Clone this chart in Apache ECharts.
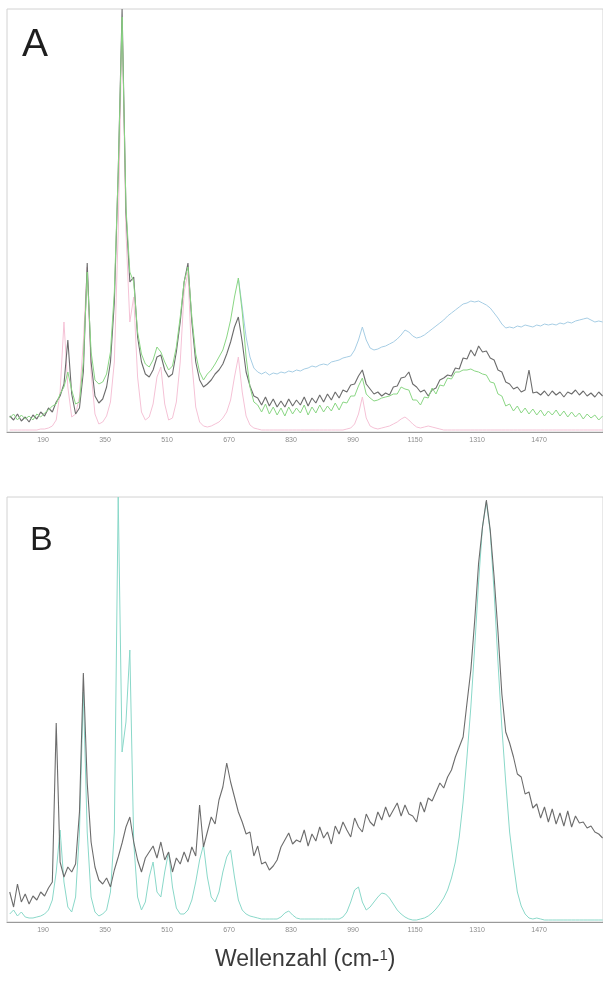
<!DOCTYPE html>
<html><head><meta charset="utf-8">
<script src="https://cdn.jsdelivr.net/npm/echarts@6/dist/echarts.min.js"></script>
<style>html,body{margin:0;padding:0;background:#fff}#c{width:603px;height:983px}</style>
</head><body><div id="c"></div>
<script>
// Sampling grid (wavenumber, cm-1) shared by all spectra
const wavenumberStart = 104;
const wavenumberStep = 10;
const xTicks = [190, 350, 510, 670, 830, 990, 1150, 1310, 1470];

const grayA = [
 16,12,18,11,15,10,17,13,20,16,
 24,20,30,36,48,92,38,18,24,60,
 169,70,36,29,33,45,70,130,260,423,
 220,150,155,95,70,58,55,62,75,77,
 62,55,58,80,110,150,169,110,70,52,
 45,48,52,58,62,68,78,90,105,115,
 90,60,46,36,34,27,35,26,33,25,
 31,25,33,26,32,27,35,26,34,29,
 37,30,38,32,40,34,42,40,47,48,
 56,62,48,43,38,40,36,39,37,45,
 46,54,55,60,48,45,40,42,36,42,
 44,52,54,57,56,64,63,74,73,82,
 76,86,80,81,74,72,62,60,50,48,
 43,45,40,42,62,39,40,37,41,36,
 41,37,40,35,40,38,42,37,41,36,
 39,35,40,36];
const greenA = [
 14,18,12,17,13,16,12,18,15,19,
 22,26,28,38,45,60,42,28,30,70,
 160,80,52,48,50,58,80,140,260,415,
 225,160,150,100,78,68,65,72,85,80,
 70,62,66,85,115,150,165,115,78,60,
 52,58,62,68,75,82,95,112,135,154,
 120,75,45,30,27,20,28,18,25,17,
 24,16,25,18,24,19,27,17,25,19,
 27,20,26,21,29,22,30,29,36,36,
 46,54,38,34,31,32,34,35,36,38,
 38,45,43,42,32,32,27,35,34,44,
 38,47,46,54,53,60,60,62,62,63,
 61,60,58,57,50,49,38,36,26,28,
 21,26,19,24,18,23,17,22,16,21,
 17,22,16,21,15,20,15,19,13,18,
 14,17,12,16];
const blueAStart = 694;
const blueA = [
 154,125,95,75,64,60,58,60,57,59,58,
 60,59,61,60,62,61,63,64,66,65,
 67,68,67,70,71,72,74,75,76,82,
 92,105,92,84,82,83,85,86,88,90,
 93,97,102,100,96,94,95,97,100,103,
 106,109,112,116,119,122,125,128,129,131,
 130,131,129,127,124,119,114,108,104,105,
 104,106,105,107,106,105,107,106,108,107,
 108,107,109,108,110,109,111,112,113,114,
 112,110,111,110];
const pinkA = [
 2,2,2,2,2,2,2,2,3,3,
 4,6,12,40,110,45,15,18,35,90,
 165,60,18,8,10,16,30,70,200,415,
 200,110,135,55,20,12,15,28,55,65,
 28,12,14,30,70,140,160,70,25,10,
 6,5,6,8,10,14,20,32,55,75,
 40,16,7,4,3,2,2,2,2,2,
 2,2,2,2,2,2,2,2,2,2,
 2,2,2,2,2,2,2,3,4,8,
 18,35,14,6,4,3,4,5,6,8,
 10,13,15,12,8,5,4,5,6,5,
 4,3,2,2,2,2,2,2,2,2,
 2,2,2,2,2,2,2,2,2,2,
 2,2,2,2,2,2,2,2,2,2,
 2,2,2,2,2,2,2,2,2,2,
 2,2,2,2];

// Panel B: measured spectrum (gray) and reference fit (teal)
const grayB = [
 30,15,38,20,28,18,26,22,30,26,
 34,40,199,60,45,55,50,58,110,249,
 139,80,55,42,38,44,35,52,65,79,
 95,105,80,62,50,64,70,76,64,80,
 62,70,50,64,58,70,60,75,66,117,
 75,90,105,98,122,135,159,140,125,110,
 100,88,90,66,76,58,60,52,56,62,
 75,82,89,78,82,80,92,76,88,81,
 95,84,90,78,96,88,100,92,85,104,
 95,90,108,100,96,110,102,115,105,112,
 119,106,117,108,106,100,120,110,124,121,
 130,139,134,145,152,165,175,185,219,252,
 302,359,395,422,392,345,290,228,190,179,
 165,148,145,128,130,114,118,104,115,100,
 113,98,109,96,111,95,106,99,100,94,
 96,90,88,84];
const tealB = [
 8,12,6,10,5,4,4,5,6,8,
 12,22,50,92,40,15,10,25,90,230,
 90,25,10,6,8,12,30,90,425,170,
 200,272,80,25,12,20,45,60,30,25,
 50,70,35,14,8,8,12,22,40,62,
 77,45,25,20,30,50,65,72,45,22,
 12,8,6,5,4,3,3,3,3,3,
 5,9,11,7,4,3,3,3,3,3,
 3,3,3,3,3,3,5,10,20,32,
 35,20,12,15,20,25,29,28,24,18,
 12,8,5,3,2,2,3,4,6,9,
 13,18,24,32,44,60,85,120,165,215,
 275,340,395,420,390,330,260,195,140,90,
 58,30,16,8,4,3,4,3,2,2,
 2,2,2,2,2,2,2,2,2,2,
 2,2,2,2];

function toPairs(vals, start) {
  return vals.map((v, i) => [start + i * wavenumberStep, v]);
}

const chart = echarts.init(document.getElementById('c'), null, {renderer: 'canvas'});

function xAx(gi) {
  return {
    gridIndex: gi, type: 'value', min: 97, max: 1635,
    axisLine: {show: true, lineStyle: {color: '#9a9a9a', width: 1}},
    axisTick: {show: false},
    splitLine: {show: false},
    axisLabel: {customValues: xTicks, formatter: v => String(v), fontSize: 7, color: '#8c8c8c', margin: 5, fontFamily: 'Liberation Sans'}
  };
}
function line(name, gi, data, color, z, width) {
  return {
    name, type: 'line', xAxisIndex: gi, yAxisIndex: gi, data,
    showSymbol: false, symbol: 'none', z, animation: false,
    lineStyle: {color, width: width || 1}, clip: true
  };
}

chart.setOption({
  backgroundColor: '#ffffff',
  animation: false,
  grid: [
    {left: 7, right: 0, top: 9, height: 423, show: true, borderColor: '#d2d2d2', borderWidth: 1},
    {left: 7, right: 0, top: 497, height: 425, show: true, borderColor: '#d2d2d2', borderWidth: 1}
  ],
  xAxis: [xAx(0), xAx(1)],
  yAxis: [
    {gridIndex: 0, type: 'value', min: 0, max: 423, show: false},
    {gridIndex: 1, type: 'value', min: 0, max: 425, show: false}
  ],
  series: [
    line('Referenz A', 0, toPairs(pinkA, wavenumberStart), '#f5c2d6', 1),
    line('Spektrum A3', 0, toPairs(blueA, blueAStart), '#a6cde4', 2),
    line('Spektrum A1', 0, toPairs(grayA, wavenumberStart), '#6c6c6c', 3, 1.1),
    line('Spektrum A2', 0, toPairs(greenA, wavenumberStart), '#8ad684', 4),
    line('Referenz B', 1, toPairs(tealB, wavenumberStart), '#8ad8c9', 1),
    line('Spektrum B', 1, toPairs(grayB, wavenumberStart), '#6c6c6c', 2, 1.1)
  ],
  graphic: [
    {type: 'text', left: 22, top: 26, style: {text: 'A', fontSize: 39, fill: '#1e1e1e', fontFamily: 'Liberation Sans'}},
    {type: 'text', left: 30, top: 524, style: {text: 'B', fontSize: 34, fill: '#1e1e1e', fontFamily: 'Liberation Sans'}},
    {type: 'text', left: 215, top: 948, style: {
      text: '{n|Wellenzahl (cm-}{s|1}{n|)}',
      rich: {
        n: {fontSize: 23, fill: '#3a3a3a', fontFamily: 'Liberation Sans'},
        s: {fontSize: 15, fill: '#3a3a3a', fontFamily: 'Liberation Sans', verticalAlign: 'top'}
      }
    }}
  ]
});
</script></body></html>
